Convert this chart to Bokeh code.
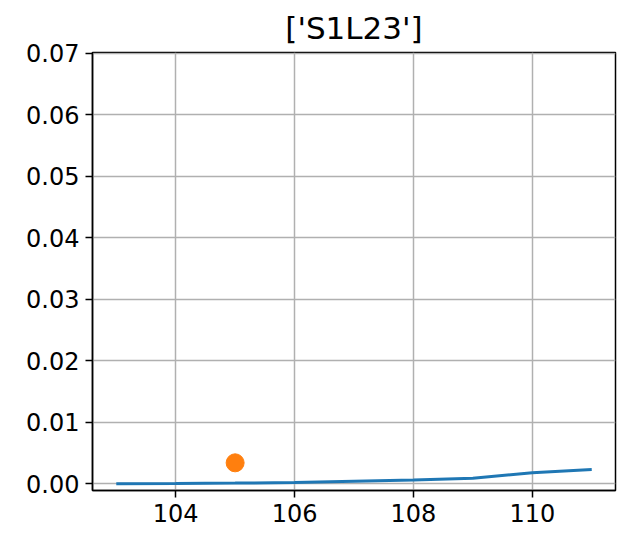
from bokeh.plotting import figure
from bokeh.models import FixedTicker, NumeralTickFormatter, Range1d
from bokeh.embed import file_html
from bokeh.resources import INLINE

title_text = "['S1L23']"
line_x = [103, 104, 105, 106, 107, 108, 109, 110, 111]
line_y = [0.0, 0.00002, 0.0001, 0.0002, 0.0004, 0.0006, 0.0009, 0.0018, 0.0023]
point_x = [105]
point_y = [0.0034]
x_ticks = [104, 106, 108, 110]
y_ticks = [0.0, 0.01, 0.02, 0.03, 0.04, 0.05, 0.06, 0.07]

FONT = "DejaVu Sans"

p = figure(width=618, height=536, output_backend="svg", toolbar_location=None,
           x_range=Range1d(102.6, 111.4), y_range=Range1d(-0.0011, 0.0701),
           min_border_left=92, min_border_right=3, min_border_bottom=46, min_border_top=0)

p.title.text = title_text
p.title.align = "center"
p.title.text_font = FONT
p.title.text_font_size = "31px"
p.title.text_font_style = "normal"
p.title.text_color = "black"
p.title.offset = 0
p.title.standoff = 14

p.background_fill_color = "white"
p.border_fill_color = "white"
p.outline_line_color = "black"
p.outline_line_width = 1.5
p.outline_line_alpha = 1.0

for ax in (p.xaxis[0], p.yaxis[0]):
    ax.axis_line_color = "black"
    ax.axis_line_width = 1.5
    ax.major_tick_line_color = "black"
    ax.major_tick_line_width = 1.5
    ax.major_tick_in = 0
    ax.major_tick_out = 7
    ax.minor_tick_line_color = None
    ax.major_label_text_font = FONT
    ax.major_label_text_font_size = "24px"
    ax.major_label_text_color = "black"
    ax.major_label_standoff = 6

p.xaxis[0].ticker = FixedTicker(ticks=x_ticks)
p.yaxis[0].ticker = FixedTicker(ticks=y_ticks)
p.yaxis[0].formatter = NumeralTickFormatter(format="0.00")

p.grid.grid_line_color = "#b0b0b0"
p.grid.grid_line_width = 1.5
p.grid.grid_line_alpha = 1.0

p.line(line_x, line_y, line_color="#1f77b4", line_width=3)
p.scatter(point_x, point_y, size=18, fill_color="#ff7f0e", line_color="#ff7f0e")

open("out.html", "w").write(file_html(p, INLINE))
